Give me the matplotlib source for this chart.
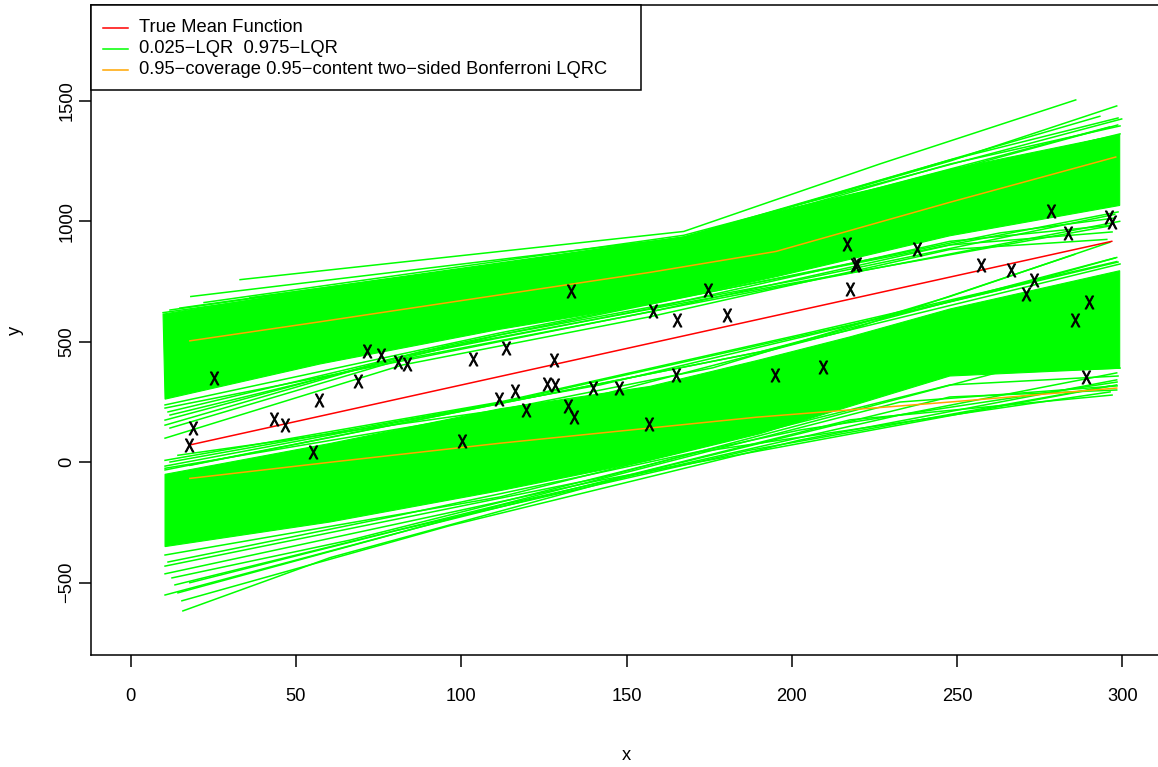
import numpy as np
import matplotlib
matplotlib.use("Agg")
import matplotlib.pyplot as plt
from matplotlib.patches import Rectangle
from matplotlib.lines import Line2D
from matplotlib.textpath import TextPath
from matplotlib.font_manager import FontProperties
from matplotlib.transforms import Affine2D

plt.rcParams['font.family'] = ['Liberation Sans', 'DejaVu Sans']

# ---- observed sample ----
obs_x = [17.6, 18.8, 25.2, 43.3, 46.7, 55.1, 57.0, 68.8, 71.5, 75.7,
         80.8, 83.6, 100.2, 103.5, 111.4, 113.5, 116.2, 119.6, 125.9, 128.3,
         128.0, 132.3, 133.2, 134.1, 139.8, 147.7, 156.8, 158.0, 164.9, 165.2,
         174.6, 180.3, 194.9, 209.4, 216.6, 217.6, 219.1, 219.7, 237.8, 257.2,
         266.3, 270.8, 273.2, 278.4, 283.5, 285.6, 289.8, 288.9, 295.9, 296.8]
obs_y = [71, 142, 350, 179, 154, 42, 258, 338, 462, 446,
         417, 408, 87, 429, 262, 475, 296, 217, 325, 321,
         425, 233, 712, 187, 308, 308, 158, 629, 362, 592,
         717, 612, 362, 396, 904, 721, 817, 821, 887, 817,
         796, 700, 758, 1042, 950, 592, 667, 354, 1017, 996]

# ---- true mean function ----
mean_x = [17.6, 296.8]
mean_y = [71, 917]

# ---- 0.95-coverage 0.95-content two-sided Bonferroni LQRC ----
lqrc_upper_x = [17.9, 57.2, 157.0, 195.2, 247.8, 298.0]
lqrc_upper_y = [504, 583, 788, 875, 1079, 1267]
lqrc_lower_x = [17.9, 60.3, 111.7, 189.3, 247.8, 298.3]
lqrc_lower_y = [-67, 0, 79, 187, 250, 308]

# ---- bootstrap 0.975-LQR curves: dense bundle outline ----
q975_top_x = [9.8, 57.3, 111.7, 167.3, 195.2, 226.6, 247.8, 299.2]
q975_top_y = [615, 720, 825, 935, 1040, 1140, 1215, 1360]
q975_bot_x = [10.4, 57.3, 111.7, 157.1, 195.2, 247.8, 299.2]
q975_bot_y = [262, 408, 552, 656, 770, 940, 1066]

# ---- bootstrap 0.025-LQR curves: dense bundle outline ----
q025_top_x = [10.4, 60.3, 111.7, 157.1, 190.3, 217.5, 247.8, 299.2]
q025_top_y = [-50, 78, 222, 315, 425, 520, 636, 795]
q025_bot_x = [10.4, 60.3, 111.7, 157.1, 190.3, 247.8, 299.2]
q025_bot_y = [-350, -248, -118, 8, 118, 358, 390]

# ---- individual 0.975-LQR curves at the edges of the bundle ----
q975_curves_x = [
    [33.1, 167.3, 226.6, 285.9],
    [18.2, 167.3, 247.8, 298.3],
    [9.8, 167.3, 296.2],
    [22.2, 167.3, 299.8],
    [13.4, 167.3, 298.6],
    [36.1, 167.3, 293.2],
    [11.9, 167.4, 247.9, 298.7],
    [10.4, 167.4, 247.9, 299.3],
    [14.9, 167.4, 293.2],
    [10.4, 172.2, 299.3],
    [10.4, 82.3, 157.1, 247.8, 295.3],
    [10.4, 80.5, 157.1, 247.8, 296.2],
    [11.9, 111.7, 202.4, 297.7],
    [10.4, 157.1, 299.2],
    [10.4, 111.7, 298.7],
    [11.3, 96.6, 263.0, 297.8],
    [10.4, 87.5, 172.2, 296.3],
    [11.9, 81.5, 157.1, 247.9, 296.9],
]
q975_curves_y = [
    [758, 958, 1238, 1504],
    [688, 933, 1250, 1479],
    [621, 925, 1392],
    [663, 942, 1425],
    [583, 908, 1400],
    [683, 925, 1342],
    [632, 931, 1255, 1429],
    [607, 923, 1238, 1396],
    [640, 935, 1436],
    [590, 939, 1363],
    [100, 404, 604, 883, 925],
    [154, 433, 638, 917, 983],
    [196, 529, 758, 1029],
    [225, 625, 1000],
    [238, 537, 1039],
    [209, 487, 952, 1014],
    [175, 458, 674, 981],
    [142, 425, 624, 902, 956],
]

# ---- individual 0.025-LQR curves at the edges of the bundle ----
q025_curves_x = [
    [14.3, 111.7, 176.1, 247.8, 296.2],
    [10.4, 111.7, 202.4, 298.3],
    [17.9, 190.3, 298.3],
    [10.4, 141.9, 217.5, 285.6],
    [10.4, 111.7, 217.6, 298.7],
    [11.9, 142.0, 263.0, 297.8],
    [10.4, 190.4, 299.3],
    [15.8, 60.3, 157.1, 247.8, 298.3],
    [15.5, 96.6, 202.4, 298.3],
    [14.3, 111.7, 232.6, 298.3],
    [10.4, 141.9, 298.3],
    [17.9, 80.5, 187.3, 296.2],
    [10.4, 111.7, 247.9, 298.7],
    [11.3, 81.5, 202.5, 298.4],
    [10.4, 142.0, 263.0, 299.3],
    [13.4, 111.7, 232.7, 298.4],
    [12.5, 66.4, 172.2, 296.3],
    [10.4, 87.5, 217.6, 296.9],
]
q025_curves_y = [
    [29, 217, 392, 688, 913],
    [8, 250, 529, 833],
    [-13, 458, 850],
    [-25, 279, 550, 863],
    [-16, 246, 570, 831],
    [1, 321, 715, 848],
    [-32, 458, 823],
    [-617, -396, -33, 271, 300],
    [-575, -263, 92, 342],
    [-542, -179, 196, 371],
    [-463, -75, 321],
    [-500, -283, 50, 317],
    [-385, -144, 321, 358],
    [-414, -219, 134, 333],
    [-431, -65, 375, 391],
    [-509, -177, 250, 317],
    [-480, -323, 43, 292],
    [-551, -269, 176, 279],
]

x_ticks = [0, 50, 100, 150, 200, 250, 300]
y_ticks = [-500, 0, 500, 1000, 1500]

legend_labels = ["True Mean Function",
                 "0.025\u2212LQR  0.975\u2212LQR",
                 "0.95\u2212coverage 0.95\u2212content two\u2212sided Bonferroni LQRC"]

GREEN = "#00FF00"
RED = "#FF0000"
ORANGE = "#FFA500"
LW = 1.1
FS = 13.2

W, H = 1158, 767
fig = plt.figure(figsize=(W / 100, H / 100), dpi=100)
ax = fig.add_axes([91 / W, (H - 655) / H, (1162 - 91) / W, 650 / H])
ax.set_xlim(-12, 312)
ax.set_ylim(-800, 1898)

# bundles of quantile regression curves
for tx, ty, bx, by in [(q975_top_x, q975_top_y, q975_bot_x, q975_bot_y),
                       (q025_top_x, q025_top_y, q025_bot_x, q025_bot_y)]:
    px = list(tx) + list(bx)[::-1]
    py = list(ty) + list(by)[::-1]
    ax.fill(px, py, color=GREEN, lw=0.8, ec=GREEN, zorder=1)

for cx, cy in zip(q975_curves_x + q025_curves_x, q975_curves_y + q025_curves_y):
    ax.plot(cx, cy, color=GREEN, lw=LW, zorder=2)

ax.plot(lqrc_upper_x, lqrc_upper_y, color=ORANGE, lw=LW, zorder=3)
ax.plot(lqrc_lower_x, lqrc_lower_y, color=ORANGE, lw=LW, zorder=3)
ax.plot(mean_x, mean_y, color=RED, lw=LW, zorder=4)

# "X" glyph as a plotting symbol
tp = TextPath((0, 0), "X", size=10, prop=FontProperties(family="Liberation Sans"))
ext = tp.get_extents()
xmark = tp.transformed(Affine2D()
                       .translate(-(ext.x0 + ext.x1) / 2, -(ext.y0 + ext.y1) / 2)
                       .scale(0.75, 1.0))
ax.plot(obs_x, obs_y, ls="none", marker=xmark, ms=9.4, mfc="black",
        mec="black", mew=0.7, zorder=5)

# axes decoration
for s in ax.spines.values():
    s.set_linewidth(LW)
ax.set_xticks(x_ticks)
ax.set_yticks(y_ticks)
ax.tick_params(axis="both", length=8.6, width=LW, labelsize=FS, direction="out")
ax.tick_params(axis="x", pad=15)
ax.tick_params(axis="y", pad=2.6)
for lab in ax.get_yticklabels():
    lab.set_rotation(90)
    lab.set_va("center")

ax.text(0.5, (655 - 760) / 650, "x", transform=ax.transAxes, ha="center",
        va="baseline", fontsize=FS)
ax.text((15 - 91) / 1071, 0.5, "y", transform=ax.transAxes, ha="center",
        va="center", rotation=90, fontsize=FS)

# legend box
fig.add_artist(Rectangle((91 / W, 1 - 90 / H), 550 / W, 85 / H,
                         transform=fig.transFigure, facecolor="white",
                         edgecolor="black", lw=LW, zorder=10))
for row_y, col, lab in zip([27.5, 48.5, 69.5], [RED, GREEN, ORANGE], legend_labels):
    fy = 1 - row_y / H
    fig.add_artist(Line2D([102.5 / W, 127.5 / W], [fy, fy], color=col, lw=LW,
                          transform=fig.transFigure, zorder=11))
    fig.text(139 / W, fy, lab, ha="left", va="center", fontsize=FS, zorder=11)

fig.savefig("out.png", dpi=100)
